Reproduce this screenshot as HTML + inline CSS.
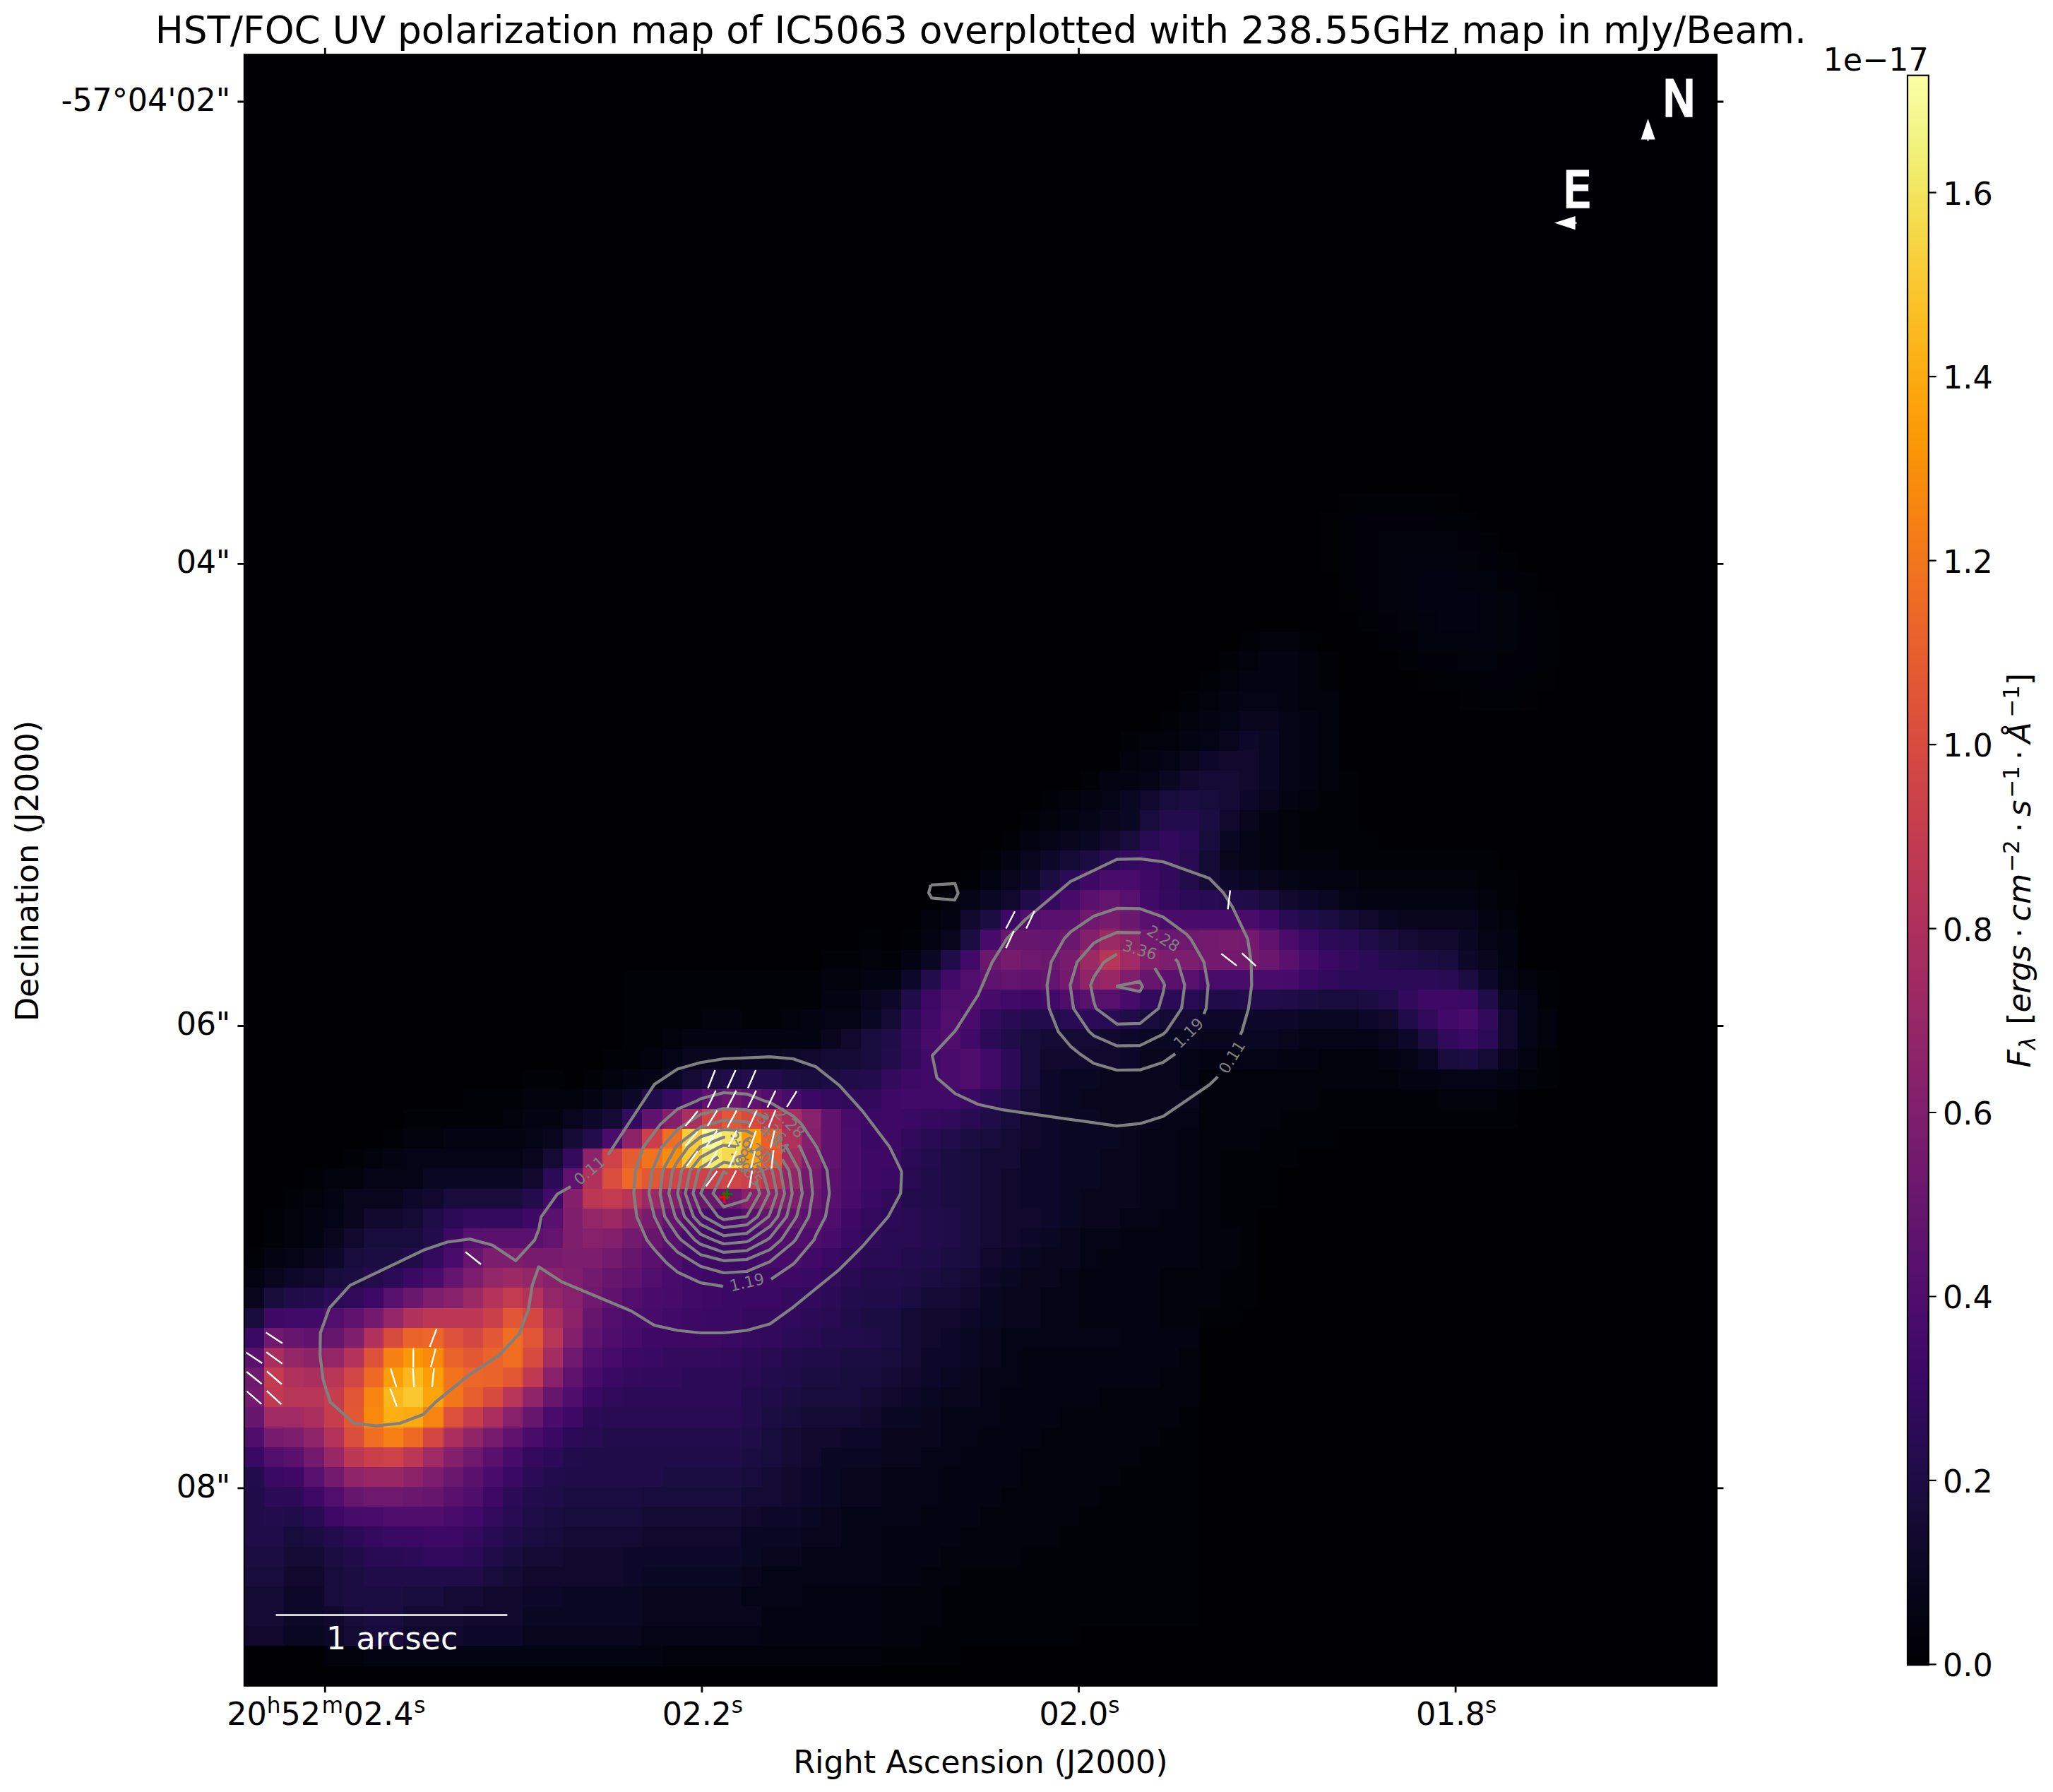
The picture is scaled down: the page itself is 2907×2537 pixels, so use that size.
<!DOCTYPE html>
<html><head><meta charset="utf-8"><title>HST/FOC UV polarization map of IC5063</title>
<style>
html,body{margin:0;padding:0;background:#fff}
svg{display:block}
text{font-family:"DejaVu Sans","Liberation Sans",sans-serif;}
</style></head><body>
<svg width="2907" height="2537" viewBox="0 0 2907 2537">
<rect width="2907" height="2537" fill="#fff"/>
<g shape-rendering="crispEdges">
<rect x="346" y="77" width="2085" height="2310" fill="#000004"/>
<path fill="#010106" d="M1896 697h28v28h-28zM2036 697h29v28h-29zM1867 725h29v28h-29zM1867 753h29v28h-29zM1867 781h29v28h-29zM1896 838h28v28h-28zM2177 838h28v28h-28zM2008 950h28v28h-28zM2177 950h28v28h-28zM2065 978h28v29h-28zM2149 978h28v29h-28z"/>
<path fill="#010108" d="M1924 697h112v28h-112zM1896 725h28v28h-28zM2036 725h57v28h-57zM1896 753h28v28h-28zM2093 753h28v28h-28zM1896 781h28v28h-28zM2121 781h28v28h-28zM1896 809h28v29h-28zM2149 809h28v29h-28zM2149 838h28v28h-28zM1924 866h28v28h-28zM2177 866h28v28h-28zM1755 894h28v28h-28zM1839 894h28v28h-28zM1952 894h28v28h-28zM2177 894h28v28h-28zM1727 922h28v28h-28zM1867 922h29v28h-29zM1980 922h28v28h-28zM2177 922h28v28h-28zM1698 950h29v28h-29zM1867 950h29v28h-29zM2036 950h57v28h-57zM2149 950h28v28h-28zM1670 978h28v29h-28zM2093 978h56v29h-56zM1642 1007h28v28h-28zM1586 1035h28v28h-28zM1529 1091h28v28h-28zM1896 1091h28v28h-28zM1473 1119h28v28h-28zM1867 1119h57v28h-57zM1445 1147h28v29h-28zM1839 1147h85v29h-85zM1417 1176h28v28h-28zM1839 1176h113v28h-113zM1388 1204h29v28h-29zM1896 1204h225v28h-225zM1360 1232h28v28h-28zM2093 1232h56v28h-56zM2121 1260h28v28h-28zM1219 1316h29v29h-29zM1276 1316h28v29h-28zM1163 1345h56v28h-56zM1248 1345h28v28h-28zM881 1373h282v28h-282zM2177 1373h28v28h-28zM881 1401h282v28h-282zM2177 1401h28v28h-28zM881 1429h113v28h-113zM1050 1429h57v28h-57zM881 1457h57v28h-57zM853 1485h56v29h-56zM2177 1485h28v29h-28zM740 1514h57v28h-57zM825 1514h28v28h-28zM2177 1514h28v28h-28zM656 1542h84v28h-84zM1867 1542h169v28h-169zM2121 1542h28v28h-28zM571 1570h141v28h-141zM1811 1570h338v28h-338zM543 1598h28v28h-28zM1783 1598h113v28h-113zM487 1626h28v28h-28zM1727 1626h112v28h-112zM430 1654h29v29h-29zM1727 1654h84v29h-84zM402 1683h28v28h-28zM1727 1683h84v28h-84zM374 1711h28v28h-28zM1727 1711h56v28h-56zM374 1739h28v28h-28zM1755 1739h28v28h-28zM346 1767h28v28h-28zM1755 1767h28v28h-28zM1727 1795h56v28h-56zM1727 1823h56v29h-56zM1698 1852h57v28h-57zM1670 1992h28v29h-28zM1642 2021h56v28h-56zM1614 2049h84v28h-84zM1586 2077h112v28h-112zM1557 2105h141v28h-141zM1529 2133h169v28h-169zM1501 2161h197v29h-197zM1445 2190h253v28h-253zM1360 2218h338v28h-338zM1332 2246h366v28h-366zM1332 2274h366v28h-366zM1304 2302h225v28h-225zM1248 2330h112v29h-112z"/>
<path fill="#02010a" d="M1924 725h112v28h-112zM1924 753h28v28h-28zM2065 753h28v28h-28zM1924 781h28v28h-28zM2093 781h28v28h-28zM1924 809h28v29h-28zM2121 809h28v29h-28zM1924 838h28v28h-28zM1952 866h28v28h-28zM2149 866h28v28h-28zM1980 894h28v28h-28zM2149 894h28v28h-28zM2008 922h57v28h-57zM2121 922h56v28h-56zM2093 950h56v28h-56z"/>
<path fill="#02020c" d="M1952 753h113v28h-113zM1952 781h28v28h-28zM2065 781h28v28h-28zM1952 809h28v29h-28zM2093 809h28v29h-28zM1952 838h28v28h-28zM2121 838h28v28h-28zM1980 866h28v28h-28zM2121 866h28v28h-28zM1783 894h56v28h-56zM2008 894h28v28h-28zM2121 894h28v28h-28zM1755 922h28v28h-28zM1839 922h28v28h-28zM2065 922h56v28h-56zM1727 950h28v28h-28zM1839 950h28v28h-28zM1698 978h29v29h-29zM1839 978h57v29h-57zM1670 1007h28v28h-28zM1867 1007h29v28h-29zM1614 1035h56v28h-56zM1867 1035h29v28h-29zM1586 1063h28v28h-28zM1867 1063h29v28h-29zM1867 1091h29v28h-29zM1501 1119h28v28h-28zM1839 1119h28v28h-28zM1473 1147h28v29h-28zM1811 1147h28v29h-28zM1811 1176h28v28h-28zM1811 1204h85v28h-85zM1924 1232h169v28h-169zM1332 1260h28v28h-28zM2093 1260h28v28h-28zM1304 1288h28v28h-28zM2121 1288h28v28h-28zM1219 1345h29v28h-29zM1163 1373h56v28h-56zM2149 1373h28v28h-28zM994 1429h56v28h-56zM1107 1429h28v28h-28zM2177 1429h28v28h-28zM938 1457h28v28h-28zM2177 1457h28v28h-28zM909 1485h29v29h-29zM1867 1485h85v29h-85zM853 1514h28v28h-28zM1698 1514h282v28h-282zM2149 1514h28v28h-28zM740 1542h85v28h-85zM1698 1542h169v28h-169zM2036 1542h85v28h-85zM712 1570h28v28h-28zM1698 1570h113v28h-113zM571 1598h57v28h-57zM1698 1598h85v28h-85zM515 1626h28v28h-28zM1698 1626h29v28h-29zM459 1654h56v29h-56zM1698 1654h29v29h-29zM430 1683h29v28h-29zM1698 1683h29v28h-29zM402 1711h28v28h-28zM1698 1711h29v28h-29zM402 1739h28v28h-28zM1698 1739h57v28h-57zM1698 1767h57v28h-57zM1642 1795h85v28h-85zM1642 1823h85v29h-85zM1642 1852h56v28h-56zM1670 1908h28v28h-28zM1642 1936h56v28h-56zM1557 1964h141v28h-141zM1501 1992h169v29h-169zM1473 2021h169v28h-169zM1445 2049h169v28h-169zM1445 2077h141v28h-141zM1417 2105h140v28h-140zM1388 2133h141v28h-141zM1360 2161h141v29h-141zM1332 2190h113v28h-113zM1304 2218h56v28h-56zM1248 2246h84v28h-84zM1248 2274h84v28h-84zM1248 2302h56v28h-56zM459 2330h56v29h-56zM938 2330h310v29h-310z"/>
<path fill="#02020e" d="M1980 781h85v28h-85zM1980 809h28v29h-28zM2065 809h28v29h-28zM1980 838h28v28h-28zM2093 838h28v28h-28zM2008 866h28v28h-28zM2093 866h28v28h-28zM2036 894h85v28h-85z"/>
<path fill="#030210" d="M2008 809h57v29h-57zM2008 838h85v28h-85zM2036 866h57v28h-57z"/>
<path fill="#040312" d="M1783 922h56v28h-56zM1755 950h84v28h-84zM1727 978h28v29h-28zM1811 978h28v29h-28zM1698 1007h29v28h-29zM1839 1007h28v28h-28zM1670 1035h28v28h-28zM1839 1035h28v28h-28zM1614 1063h28v28h-28zM1839 1063h28v28h-28zM1557 1091h57v28h-57zM1839 1091h28v28h-28zM1529 1119h28v28h-28zM1811 1119h28v28h-28zM1501 1147h28v29h-28zM1783 1147h28v29h-28zM1445 1176h28v28h-28zM1783 1176h28v28h-28zM1417 1204h28v28h-28zM1783 1204h28v28h-28zM1388 1232h29v28h-29zM1839 1232h85v28h-85zM1924 1260h169v28h-169zM1332 1288h28v28h-28zM2093 1288h28v28h-28zM1304 1316h28v29h-28zM2121 1316h28v29h-28zM1276 1345h28v28h-28zM2121 1345h28v28h-28zM1219 1373h57v28h-57zM1163 1401h56v28h-56zM1135 1429h28v28h-28zM966 1457h197v28h-197zM1698 1485h57v29h-57zM1811 1485h56v29h-56zM1952 1485h28v29h-28zM2149 1485h28v29h-28zM881 1514h28v28h-28zM1980 1514h56v28h-56zM2121 1514h28v28h-28zM825 1542h28v28h-28zM740 1570h57v28h-57zM628 1598h112v28h-112zM1670 1598h28v28h-28zM543 1626h28v28h-28zM1670 1626h28v28h-28zM1670 1654h28v29h-28zM459 1683h28v28h-28zM1670 1683h28v28h-28zM430 1711h29v28h-29zM1642 1711h56v28h-56zM430 1739h29v28h-29zM1586 1739h112v28h-112zM374 1767h28v28h-28zM1557 1767h141v28h-141zM346 1795h28v28h-28zM1529 1795h113v28h-113zM1529 1823h113v29h-113zM1529 1852h113v28h-113zM1586 1880h112v28h-112zM1445 1908h225v28h-225zM1445 1936h197v28h-197zM1417 1964h140v28h-140zM1417 1992h84v29h-84zM1388 2021h85v28h-85zM1360 2049h85v28h-85zM1332 2077h113v28h-113zM1332 2105h85v28h-85zM1304 2133h84v28h-84zM1248 2161h112v29h-112zM1248 2190h84v28h-84zM1248 2218h56v28h-56zM1135 2246h113v28h-113zM1078 2274h170v28h-170zM1078 2302h170v28h-170zM515 2330h423v29h-423z"/>
<path fill="#050417" d="M1755 978h56v29h-56zM1727 1007h28v28h-28zM1811 1007h28v28h-28zM1698 1035h29v28h-29zM1811 1035h28v28h-28zM1642 1063h28v28h-28zM1811 1063h28v28h-28zM1614 1091h28v28h-28zM1811 1091h28v28h-28zM1557 1119h29v28h-29zM1529 1147h28v29h-28zM1473 1176h28v28h-28zM1755 1176h28v28h-28zM1755 1204h28v28h-28zM1811 1232h28v28h-28zM1360 1260h28v28h-28zM1896 1260h28v28h-28zM2093 1316h28v29h-28zM2121 1373h28v28h-28zM2149 1401h28v28h-28zM1163 1429h56v28h-56zM2149 1429h28v28h-28zM1839 1457h113v28h-113zM2149 1457h28v28h-28zM938 1485h28v29h-28zM1670 1485h28v29h-28zM1755 1485h56v29h-56zM1980 1485h28v29h-28zM909 1514h29v28h-29zM1670 1514h28v28h-28zM2036 1514h85v28h-85zM1642 1570h56v28h-56zM740 1598h29v28h-29zM1614 1598h56v28h-56zM571 1626h169v28h-169zM1614 1626h56v28h-56zM515 1654h84v29h-84zM1614 1654h56v29h-56zM1614 1683h56v28h-56zM459 1711h28v28h-28zM1586 1711h56v28h-56zM1529 1739h57v28h-57zM402 1767h28v28h-28zM1529 1767h28v28h-28zM1501 1795h28v28h-28zM1473 1823h56v29h-56zM1473 1852h56v28h-56zM1417 1880h169v28h-169zM1417 1908h28v28h-28zM1388 1936h57v28h-57zM1388 1964h29v28h-29zM1332 1992h85v29h-85zM1332 2021h56v28h-56zM1304 2049h56v28h-56zM1248 2077h84v28h-84zM1248 2105h84v28h-84zM1191 2133h113v28h-113zM1191 2161h57v29h-57zM1135 2190h113v28h-113zM1078 2218h170v28h-170zM1050 2246h85v28h-85zM909 2302h169v28h-169z"/>
<path fill="#08051d" d="M1755 1007h56v28h-56zM1727 1035h28v28h-28zM1670 1063h28v28h-28zM1783 1119h28v28h-28zM1557 1147h29v29h-29zM1755 1147h28v29h-28zM1501 1176h28v28h-28zM1445 1204h28v28h-28zM1727 1204h28v28h-28zM1417 1232h28v28h-28zM1783 1232h28v28h-28zM1980 1288h113v28h-113zM1332 1316h28v29h-28zM2093 1345h28v28h-28zM1219 1401h29v28h-29zM1163 1457h28v28h-28zM1698 1457h57v28h-57zM1811 1457h28v28h-28zM1952 1457h28v28h-28zM966 1485h84v29h-84zM1614 1485h56v29h-56zM2121 1485h28v29h-28zM1557 1514h113v28h-113zM853 1542h28v28h-28zM1529 1542h169v28h-169zM797 1570h28v28h-28zM1557 1570h85v28h-85zM769 1598h28v28h-28zM1586 1598h28v28h-28zM740 1626h29v28h-29zM1557 1626h57v28h-57zM1557 1654h57v29h-57zM487 1683h84v28h-84zM1529 1683h85v28h-85zM487 1711h28v28h-28zM1529 1711h57v28h-57zM459 1739h28v28h-28zM1501 1739h28v28h-28zM430 1767h29v28h-29zM1473 1767h56v28h-56zM374 1795h28v28h-28zM1445 1795h56v28h-56zM346 1823h28v29h-28zM1417 1823h56v29h-56zM1417 1852h56v28h-56zM1388 1880h29v28h-29zM1388 1908h29v28h-29zM1360 1936h28v28h-28zM1332 1964h56v28h-56zM1304 1992h28v29h-28zM1248 2021h84v28h-84zM1248 2049h56v28h-56zM1191 2077h57v28h-57zM1191 2105h57v28h-57zM1163 2133h28v28h-28zM1135 2161h56v29h-56zM1078 2190h57v28h-57zM1050 2218h28v28h-28zM909 2246h141v28h-141zM909 2274h169v28h-169zM740 2302h169v28h-169z"/>
<path fill="#0a0722" d="M1783 1035h28v28h-28zM1783 1063h28v28h-28zM1642 1091h28v28h-28zM1783 1091h28v28h-28zM1586 1119h28v28h-28zM1586 1147h28v29h-28zM1529 1176h28v28h-28zM1727 1176h28v28h-28zM1755 1232h28v28h-28zM1388 1260h29v28h-29zM1867 1260h29v28h-29zM1952 1288h28v28h-28zM2065 1316h28v29h-28zM1304 1345h28v28h-28zM2121 1401h28v28h-28zM1219 1429h29v28h-29zM1839 1429h85v28h-85zM1614 1457h84v28h-84zM1755 1457h56v28h-56zM1050 1485h57v29h-57zM2008 1485h28v29h-28zM938 1514h28v28h-28zM1501 1514h56v28h-56zM1501 1542h28v28h-28zM1501 1570h56v28h-56zM1501 1598h85v28h-85zM1501 1626h56v28h-56zM599 1654h141v29h-141zM1501 1654h56v29h-56zM1501 1683h28v28h-28zM1501 1711h28v28h-28zM1473 1739h28v28h-28zM1445 1767h28v28h-28zM1417 1795h28v28h-28zM1388 1823h29v29h-29zM1388 1852h29v28h-29zM1360 1880h28v28h-28zM1360 1908h28v28h-28zM1332 1936h28v28h-28zM1304 1964h28v28h-28zM1248 1992h56v29h-56zM1163 2049h85v28h-85zM1163 2077h28v28h-28zM1163 2105h28v28h-28zM1135 2133h28v28h-28zM1050 2161h85v29h-85zM1050 2190h28v28h-28zM909 2218h141v28h-141zM797 2246h112v28h-112zM740 2274h169v28h-169zM402 2302h57v28h-57z"/>
<path fill="#0d0829" d="M1755 1035h28v28h-28zM1698 1063h29v28h-29zM1755 1119h28v28h-28zM1473 1204h28v28h-28zM1445 1232h28v28h-28zM1727 1232h28v28h-28zM1839 1260h28v28h-28zM2065 1345h28v28h-28zM1276 1373h28v28h-28zM2093 1373h28v28h-28zM1248 1401h28v28h-28zM1698 1429h141v28h-141zM1924 1429h28v28h-28zM1586 1457h28v28h-28zM1980 1457h28v28h-28zM1107 1485h28v29h-28zM1586 1485h28v29h-28zM1473 1514h28v28h-28zM881 1542h28v28h-28zM1473 1542h28v28h-28zM825 1570h28v28h-28zM1473 1570h28v28h-28zM1473 1598h28v28h-28zM1445 1626h56v28h-56zM1445 1654h56v29h-56zM571 1683h28v28h-28zM1445 1683h56v28h-56zM1473 1711h28v28h-28zM1445 1739h28v28h-28zM459 1767h28v28h-28zM1417 1767h28v28h-28zM402 1795h28v28h-28zM1388 1795h29v28h-29zM1360 1852h28v28h-28zM1332 1880h28v28h-28zM1304 1908h56v28h-56zM1304 1936h28v28h-28zM1276 1964h28v28h-28zM1191 2021h57v28h-57zM1135 2077h28v28h-28zM1135 2105h28v28h-28zM1078 2133h57v28h-57zM881 2190h169v28h-169zM881 2218h28v28h-28zM402 2246h57v28h-57zM740 2246h57v28h-57zM402 2274h57v28h-57zM459 2302h28v28h-28zM656 2302h84v28h-84z"/>
<path fill="#10092d" d="M1727 1063h56v28h-56zM1670 1091h28v28h-28zM1755 1091h28v28h-28zM1614 1119h28v28h-28zM1727 1147h28v29h-28zM1557 1176h29v28h-29zM1417 1260h28v28h-28zM1811 1260h28v28h-28zM1360 1288h28v28h-28zM1924 1288h28v28h-28zM2008 1316h57v29h-57zM1952 1429h28v28h-28zM2121 1429h28v28h-28zM1191 1457h28v28h-28zM1557 1457h29v28h-29zM2121 1457h28v28h-28zM1135 1485h28v29h-28zM1473 1485h113v29h-113zM1445 1570h28v28h-28zM1445 1598h28v28h-28zM740 1654h29v29h-29zM1417 1654h28v29h-28zM599 1683h29v28h-29zM1417 1683h28v28h-28zM515 1711h56v28h-56zM1417 1711h56v28h-56zM487 1739h28v28h-28zM1417 1739h28v28h-28zM1388 1767h29v28h-29zM430 1795h29v28h-29zM1360 1823h28v29h-28zM1304 1852h56v28h-56zM1304 1880h28v28h-28zM1276 1936h28v28h-28zM1248 1964h28v28h-28zM1219 1992h29v29h-29zM1135 2021h56v28h-56zM1135 2049h28v28h-28zM1107 2077h28v28h-28zM1107 2105h28v28h-28zM1050 2133h28v28h-28zM909 2161h141v29h-141zM797 2190h84v28h-84zM402 2218h57v28h-57zM740 2218h141v28h-141zM684 2246h56v28h-56zM459 2274h28v28h-28zM656 2274h84v28h-84zM346 2302h56v28h-56zM571 2302h85v28h-85z"/>
<path fill="#140b34" d="M1698 1091h57v28h-57zM1727 1119h28v28h-28zM1501 1204h28v28h-28zM1698 1204h29v28h-29zM1698 1232h29v28h-29zM1896 1288h28v28h-28zM1980 1316h28v29h-28zM1248 1429h28v28h-28zM1642 1429h56v28h-56zM1473 1457h84v28h-84zM1163 1485h56v29h-56zM2093 1485h28v29h-28zM966 1514h28v28h-28zM1445 1542h28v28h-28zM853 1570h28v28h-28zM797 1598h28v28h-28zM1417 1598h28v28h-28zM769 1626h28v28h-28zM1388 1626h57v28h-57zM1388 1654h29v29h-29zM1388 1683h29v28h-29zM571 1711h28v28h-28zM1388 1711h29v28h-29zM1388 1739h29v28h-29zM1360 1795h28v28h-28zM1304 1823h56v29h-56zM1276 1852h28v28h-28zM1276 1880h28v28h-28zM1276 1908h28v28h-28zM1248 1936h28v28h-28zM1219 1964h29v28h-29zM1135 1992h84v29h-84zM1107 2021h28v28h-28zM1107 2049h28v28h-28zM1078 2077h29v28h-29zM1050 2105h57v28h-57zM909 2133h141v28h-141zM797 2161h112v29h-112zM402 2190h57v28h-57zM740 2190h57v28h-57zM712 2218h28v28h-28zM346 2246h56v28h-56zM628 2246h56v28h-56zM346 2274h56v28h-56zM571 2274h85v28h-85zM487 2302h28v28h-28z"/>
<path fill="#180c3c" d="M1642 1119h28v28h-28zM1698 1119h29v28h-29zM1614 1147h28v29h-28zM1586 1176h28v28h-28zM1698 1176h29v28h-29zM1783 1260h28v28h-28zM1952 1316h28v29h-28zM2036 1345h29v28h-29zM1867 1401h57v28h-57zM1614 1429h28v28h-28zM1219 1457h29v28h-29zM1445 1457h28v28h-28zM1219 1485h29v29h-29zM1445 1485h28v29h-28zM2036 1485h29v29h-29zM1135 1514h28v28h-28zM1445 1514h28v28h-28zM1417 1570h28v28h-28zM1388 1598h29v28h-29zM1360 1626h28v28h-28zM1360 1654h28v29h-28zM628 1683h112v28h-112zM1360 1683h28v28h-28zM1360 1711h28v28h-28zM515 1739h84v28h-84zM1360 1739h28v28h-28zM487 1767h28v28h-28zM1360 1767h28v28h-28zM459 1795h28v28h-28zM1332 1795h28v28h-28zM374 1823h28v29h-28zM346 1852h28v28h-28zM1248 1908h28v28h-28zM1191 1936h57v28h-57zM1135 1964h84v28h-84zM1107 1992h28v29h-28zM1078 2021h29v28h-29zM1078 2049h29v28h-29zM1050 2077h28v28h-28zM909 2105h141v28h-141zM797 2133h112v28h-112zM402 2161h28v29h-28zM769 2161h28v29h-28zM712 2190h28v28h-28zM346 2218h56v28h-56zM459 2218h28v28h-28zM684 2218h28v28h-28zM459 2246h28v28h-28zM571 2246h57v28h-57zM487 2274h28v28h-28zM515 2302h56v28h-56z"/>
<path fill="#1b0c41" d="M1670 1119h28v28h-28zM1698 1147h29v29h-29zM1529 1204h28v28h-28zM1473 1232h28v28h-28zM1388 1288h29v28h-29zM1867 1288h29v28h-29zM1360 1316h28v29h-28zM2008 1345h28v28h-28zM2065 1373h28v28h-28zM1839 1401h28v28h-28zM1924 1401h28v28h-28zM2008 1457h28v28h-28zM2065 1485h28v29h-28zM994 1514h28v28h-28zM1107 1514h28v28h-28zM1163 1514h28v28h-28zM1360 1598h28v28h-28zM1332 1626h28v28h-28zM1332 1654h28v29h-28zM1332 1683h28v28h-28zM515 1767h56v28h-56zM1332 1767h28v28h-28zM487 1795h28v28h-28zM1304 1795h28v28h-28zM1276 1823h28v29h-28zM1219 1852h57v28h-57zM1248 1880h28v28h-28zM1191 1908h57v28h-57zM1135 1936h56v28h-56zM1107 1964h28v28h-28zM1078 1992h29v29h-29zM1050 2049h28v28h-28zM938 2077h112v28h-112zM797 2105h112v28h-112zM769 2133h28v28h-28zM430 2161h29v29h-29zM740 2161h29v29h-29zM346 2190h56v28h-56zM459 2190h28v28h-28zM487 2218h28v28h-28zM487 2246h84v28h-84zM515 2274h56v28h-56z"/>
<path fill="#1f0c48" d="M1445 1260h28v28h-28zM1755 1260h28v28h-28zM1839 1288h28v28h-28zM1924 1316h28v29h-28zM1332 1345h28v28h-28zM1980 1345h28v28h-28zM1276 1401h28v28h-28zM1698 1401h57v28h-57zM1811 1401h28v28h-28zM2093 1401h28v28h-28zM1586 1429h28v28h-28zM1980 1429h28v28h-28zM1248 1457h28v28h-28zM1417 1457h28v28h-28zM1022 1514h28v28h-28zM1191 1514h28v28h-28zM909 1542h29v28h-29zM1417 1542h28v28h-28zM1388 1570h29v28h-29zM1304 1654h28v29h-28zM1304 1683h28v28h-28zM599 1711h29v28h-29zM1332 1711h28v28h-28zM1332 1739h28v28h-28zM571 1767h28v28h-28zM1304 1767h28v28h-28zM1276 1795h28v28h-28zM402 1823h28v29h-28zM1219 1823h57v29h-57zM1191 1852h28v28h-28zM1219 1880h29v28h-29zM1135 1908h56v28h-56zM1107 1936h28v28h-28zM1078 1964h29v28h-29zM1050 2021h28v28h-28zM825 2049h225v28h-225zM797 2077h141v28h-141zM346 2105h28v28h-28zM769 2105h28v28h-28zM346 2133h28v28h-28zM402 2133h28v28h-28zM740 2133h29v28h-29zM346 2161h56v29h-56zM712 2161h28v29h-28zM487 2190h28v28h-28zM684 2190h28v28h-28zM515 2218h169v28h-169z"/>
<path fill="#230c4c" d="M1642 1147h56v29h-56zM1670 1232h28v28h-28zM1727 1260h28v28h-28zM1952 1345h28v28h-28zM1304 1373h28v28h-28zM1755 1401h56v28h-56zM1952 1401h28v28h-28zM1445 1429h56v28h-56zM1248 1485h28v29h-28zM1050 1514h57v28h-57zM1219 1514h29v28h-29zM825 1598h28v28h-28zM1332 1598h28v28h-28zM1304 1626h28v28h-28zM740 1683h29v28h-29zM1276 1683h28v28h-28zM1304 1711h28v28h-28zM599 1739h29v28h-29zM1304 1739h28v28h-28zM1276 1767h28v28h-28zM515 1795h28v28h-28zM1219 1795h57v28h-57zM430 1823h29v29h-29zM1191 1823h28v29h-28zM1163 1880h56v28h-56zM1107 1908h28v28h-28zM1078 1936h29v28h-29zM1050 1964h28v28h-28zM1050 1992h28v29h-28zM853 2021h197v28h-197zM797 2049h28v28h-28zM346 2077h28v28h-28zM769 2077h28v28h-28zM740 2105h29v28h-29zM374 2133h28v28h-28zM459 2161h28v29h-28z"/>
<path fill="#280b53" d="M1614 1176h28v28h-28zM1557 1204h29v28h-29zM1670 1204h28v28h-28zM1698 1260h29v28h-29zM1811 1288h28v28h-28zM1896 1316h28v29h-28zM2036 1373h29v28h-29zM1670 1401h28v28h-28zM1417 1429h28v28h-28zM1501 1429h28v28h-28zM1557 1429h29v28h-29zM1360 1570h28v28h-28zM1304 1598h28v28h-28zM1276 1654h28v29h-28zM1276 1711h28v28h-28zM1248 1739h56v28h-56zM1219 1767h57v28h-57zM1191 1795h28v28h-28zM1163 1852h28v28h-28zM1135 1880h28v28h-28zM1078 1908h29v28h-29zM1050 1936h28v28h-28zM853 1992h197v29h-197zM825 2021h28v28h-28zM430 2133h29v28h-29zM712 2133h28v28h-28zM684 2161h28v29h-28zM515 2190h56v28h-56z"/>
<path fill="#2b0b57" d="M1670 1176h28v28h-28zM1501 1232h28v28h-28zM1670 1260h28v28h-28zM1867 1316h29v29h-29zM1924 1345h28v28h-28zM1896 1373h140v28h-140zM1642 1401h28v28h-28zM1276 1429h28v28h-28zM1529 1429h28v28h-28zM1388 1457h29v28h-29zM2093 1457h28v28h-28zM1417 1485h28v29h-28zM1417 1514h28v28h-28zM1388 1542h29v28h-29zM1276 1626h28v28h-28zM769 1654h28v29h-28zM628 1711h28v28h-28zM1248 1711h28v28h-28zM543 1795h28v28h-28zM459 1823h28v29h-28zM1163 1823h28v29h-28zM1135 1852h28v28h-28zM1107 1880h28v28h-28zM1050 1908h28v28h-28zM966 1936h84v28h-84zM881 1964h169v28h-169zM825 1992h28v29h-28zM797 2021h28v28h-28zM769 2049h28v28h-28zM740 2077h29v28h-29zM374 2105h56v28h-56zM712 2105h28v28h-28zM487 2161h28v29h-28zM571 2190h28v28h-28zM656 2190h28v28h-28z"/>
<path fill="#310a5c" d="M1642 1176h28v28h-28zM1642 1204h28v28h-28zM1642 1232h28v28h-28zM1896 1345h28v28h-28zM1867 1373h29v28h-29zM1980 1401h28v28h-28zM2008 1429h28v28h-28zM2093 1429h28v28h-28zM2036 1457h29v28h-29zM1276 1485h28v29h-28zM1191 1542h57v28h-57zM1332 1570h28v28h-28zM1276 1598h28v28h-28zM1248 1683h28v28h-28zM1219 1739h29v28h-29zM1191 1767h28v28h-28zM1163 1795h28v28h-28zM487 1823h28v29h-28zM1135 1823h28v29h-28zM1107 1852h28v28h-28zM1078 1880h29v28h-29zM1022 1908h28v28h-28zM909 1936h57v28h-57zM853 1964h28v28h-28zM599 2190h57v28h-57z"/>
<path fill="#340a5f" d="M1586 1204h28v28h-28zM1473 1260h28v28h-28zM1642 1260h28v28h-28zM1614 1401h28v28h-28zM1388 1429h29v28h-29zM1276 1457h28v28h-28zM1248 1514h28v28h-28zM938 1542h28v28h-28zM1163 1542h28v28h-28zM881 1570h28v28h-28zM1304 1570h28v28h-28zM797 1626h28v28h-28zM656 1711h84v28h-84zM1219 1711h29v28h-29zM599 1767h29v28h-29zM1107 1823h28v29h-28zM1050 1852h57v28h-57zM1050 1880h28v28h-28zM938 1908h84v28h-84zM881 1936h28v28h-28zM740 2049h29v28h-29zM684 2133h28v28h-28zM515 2161h28v29h-28zM656 2161h28v29h-28z"/>
<path fill="#390963" d="M1614 1204h28v28h-28zM1839 1316h28v29h-28zM1867 1345h29v28h-29zM1839 1373h28v28h-28zM2065 1401h28v28h-28zM2065 1457h28v28h-28zM1135 1542h28v28h-28zM1360 1542h28v28h-28zM1219 1570h29v28h-29zM1276 1570h28v28h-28zM1219 1598h29v28h-29zM1248 1654h28v29h-28zM1219 1683h29v28h-29zM1191 1739h28v28h-28zM1163 1767h28v28h-28zM571 1795h28v28h-28zM1135 1795h28v28h-28zM1022 1823h85v29h-85zM994 1852h56v28h-56zM346 1880h28v28h-28zM1022 1880h28v28h-28zM909 1908h29v28h-29zM853 1936h28v28h-28zM825 1964h28v28h-28zM769 2021h28v28h-28zM346 2049h28v28h-28zM374 2077h28v28h-28zM712 2077h28v28h-28zM543 2161h56v29h-56z"/>
<path fill="#3d0965" d="M1529 1232h28v28h-28zM1614 1232h28v28h-28zM1417 1288h28v28h-28zM1783 1288h28v28h-28zM1304 1401h28v28h-28zM1445 1401h28v28h-28zM2008 1401h57v28h-57zM1276 1514h28v28h-28zM1248 1542h28v28h-28zM1248 1570h28v28h-28zM1248 1598h28v28h-28zM1219 1626h57v28h-57zM1219 1654h29v29h-29zM740 1711h29v28h-29zM1191 1711h28v28h-28zM628 1739h28v28h-28zM994 1739h56v28h-56zM994 1767h56v28h-56zM994 1795h141v28h-141zM515 1823h28v29h-28zM994 1823h28v29h-28zM374 1852h28v28h-28zM966 1852h28v28h-28zM909 1880h113v28h-113zM881 1908h28v28h-28zM797 1992h28v29h-28zM402 2077h28v28h-28zM430 2105h29v28h-29zM684 2105h28v28h-28zM459 2133h28v28h-28zM599 2161h57v29h-57z"/>
<path fill="#420a68" d="M1614 1260h28v28h-28zM1360 1345h28v28h-28zM1332 1373h28v28h-28zM1417 1401h28v28h-28zM1473 1401h28v28h-28zM1304 1429h28v28h-28zM2036 1429h29v28h-29zM1360 1457h28v28h-28zM1304 1485h28v29h-28zM1388 1485h29v29h-29zM1304 1514h28v28h-28zM1388 1514h29v28h-29zM1276 1542h84v28h-84zM769 1683h28v28h-28zM966 1767h28v28h-28zM1050 1767h28v28h-28zM1135 1767h28v28h-28zM966 1795h28v28h-28zM966 1823h28v29h-28zM402 1852h57v28h-57zM938 1852h28v28h-28zM656 2133h28v28h-28z"/>
<path fill="#470b6a" d="M1501 1260h28v28h-28zM1388 1316h29v29h-29zM1839 1345h28v28h-28zM1811 1373h28v28h-28zM1388 1401h29v28h-29zM1586 1401h28v28h-28zM2065 1429h28v28h-28zM1304 1457h28v28h-28zM1107 1542h28v28h-28zM1191 1570h28v28h-28zM1191 1683h28v28h-28zM994 1711h28v28h-28zM966 1739h28v28h-28zM1050 1739h28v28h-28zM1163 1739h28v28h-28zM1078 1767h57v28h-57zM938 1823h28v29h-28zM909 1852h29v28h-29zM881 1880h28v28h-28zM853 1908h28v28h-28zM825 1936h28v28h-28zM712 2049h28v28h-28zM487 2133h28v28h-28z"/>
<path fill="#4a0c6b" d="M1557 1232h57v28h-57zM1642 1288h141v28h-141zM1811 1316h28v29h-28zM1698 1373h113v28h-113zM1360 1429h28v28h-28zM1332 1485h28v29h-28zM1332 1514h28v28h-28zM966 1542h28v28h-28zM853 1598h28v28h-28zM1191 1598h28v28h-28zM1191 1626h28v28h-28zM1191 1654h28v29h-28zM1022 1711h28v28h-28zM628 1767h28v28h-28zM599 1795h29v28h-29zM938 1795h28v28h-28zM909 1823h29v29h-29zM881 1852h28v28h-28zM769 1992h28v29h-28zM740 2021h29v28h-29zM684 2077h28v28h-28zM515 2133h28v28h-28zM628 2133h28v28h-28z"/>
<path fill="#4f0d6c" d="M1332 1401h56v28h-56zM1501 1401h28v28h-28zM1332 1457h28v28h-28zM1360 1485h28v29h-28zM1360 1514h28v28h-28zM966 1711h28v28h-28zM1163 1711h28v28h-28zM1078 1739h29v28h-29zM1135 1739h28v28h-28zM938 1767h28v28h-28zM853 1880h28v28h-28zM797 1964h28v28h-28zM346 2021h28v28h-28zM656 2105h28v28h-28zM543 2133h85v28h-85z"/>
<path fill="#520e6d" d="M1445 1288h28v28h-28zM1360 1373h28v28h-28zM1332 1429h28v28h-28zM1078 1542h29v28h-29zM1107 1739h28v28h-28zM909 1795h29v28h-29zM881 1823h28v29h-28zM459 1852h28v28h-28zM853 1852h28v28h-28zM825 1908h28v28h-28zM374 2049h28v28h-28zM459 2105h28v28h-28z"/>
<path fill="#57106e" d="M1586 1260h28v28h-28zM1473 1288h28v28h-28zM1614 1288h28v28h-28zM1670 1373h28v28h-28zM1557 1401h29v28h-29zM1163 1683h28v28h-28zM1050 1711h28v28h-28zM656 1739h28v28h-28zM938 1739h28v28h-28zM543 1823h28v29h-28zM430 2077h29v28h-29z"/>
<path fill="#5a116e" d="M1529 1260h28v28h-28zM1501 1288h28v28h-28zM1811 1345h28v28h-28zM1642 1373h28v28h-28zM1529 1401h28v28h-28zM1163 1654h28v29h-28zM769 1711h28v28h-28zM1135 1711h28v28h-28zM684 1739h85v28h-85zM909 1767h29v28h-29zM346 1908h28v28h-28zM402 2049h28v28h-28zM684 2049h28v28h-28zM656 2077h28v28h-28zM628 2105h28v28h-28z"/>
<path fill="#5f136e" d="M1783 1316h28v29h-28zM1388 1373h29v28h-29zM1445 1373h28v28h-28zM994 1542h28v28h-28zM1050 1542h28v28h-28zM909 1570h29v28h-29zM1163 1570h28v28h-28zM1163 1598h28v28h-28zM1163 1626h28v28h-28zM797 1654h28v29h-28zM881 1795h28v28h-28zM853 1823h28v29h-28zM487 1852h28v28h-28zM430 1880h29v28h-29zM825 1880h28v28h-28zM797 1936h28v28h-28zM712 2021h28v28h-28z"/>
<path fill="#62146e" d="M1557 1260h29v28h-29zM1473 1316h28v29h-28zM1417 1373h28v28h-28zM1473 1373h28v28h-28zM938 1711h28v28h-28zM1078 1711h57v28h-57zM769 1739h28v28h-28zM628 1795h28v28h-28z"/>
<path fill="#67166e" d="M1417 1316h56v29h-56zM1614 1373h28v28h-28zM909 1739h29v28h-29zM656 1767h28v28h-28zM881 1767h28v28h-28zM853 1795h28v28h-28zM825 1852h28v28h-28zM402 1880h28v28h-28zM459 1880h28v28h-28zM769 1964h28v28h-28zM346 1992h28v29h-28zM740 1992h29v29h-29zM487 2105h28v28h-28zM599 2105h29v28h-29z"/>
<path fill="#6a176e" d="M1586 1288h28v28h-28zM1501 1316h28v29h-28zM1642 1316h28v29h-28zM1388 1345h29v28h-29zM1473 1345h28v28h-28zM1783 1345h28v28h-28zM1022 1542h28v28h-28zM966 1683h56v28h-56zM1135 1683h28v28h-28zM571 1823h28v29h-28zM628 2077h28v28h-28zM571 2105h28v28h-28z"/>
<path fill="#6f196e" d="M1529 1288h28v28h-28zM1670 1316h28v29h-28zM1445 1345h28v28h-28zM1022 1683h28v28h-28zM825 1823h28v29h-28zM374 1880h28v28h-28zM797 1908h28v28h-28zM346 1936h28v28h-28zM656 2049h28v28h-28zM515 2105h56v28h-56z"/>
<path fill="#741a6e" d="M1614 1316h28v29h-28zM1698 1316h29v29h-29zM1755 1316h28v29h-28zM1698 1345h85v28h-85zM1501 1373h28v28h-28zM1135 1654h28v29h-28zM881 1739h28v28h-28zM853 1767h28v28h-28zM825 1795h28v28h-28zM515 1852h28v28h-28zM346 1964h28v28h-28zM430 2049h29v28h-29zM459 2077h28v28h-28z"/>
<path fill="#771c6d" d="M1557 1288h29v28h-29zM1727 1316h28v29h-28zM1417 1345h28v28h-28zM1501 1345h28v28h-28zM909 1711h29v28h-29zM740 1767h57v28h-57zM374 2021h28v28h-28zM684 2021h28v28h-28z"/>
<path fill="#7c1d6d" d="M1642 1345h56v28h-56zM1135 1626h28v28h-28zM1107 1683h28v28h-28zM684 1767h56v28h-56zM797 1767h56v28h-56zM656 1795h28v28h-28zM402 2021h28v28h-28zM599 2077h29v28h-29z"/>
<path fill="#7f1e6c" d="M1586 1373h28v28h-28zM797 1711h28v28h-28zM797 1739h28v28h-28zM797 1795h28v28h-28zM599 1823h29v29h-29zM487 1880h28v28h-28z"/>
<path fill="#84206b" d="M1529 1316h28v29h-28zM1614 1345h28v28h-28zM938 1570h28v28h-28zM1135 1598h28v28h-28zM797 1683h28v28h-28zM938 1683h28v28h-28zM853 1739h28v28h-28zM797 1880h28v28h-28zM628 2049h28v28h-28z"/>
<path fill="#87216b" d="M1135 1570h28v28h-28zM1050 1683h28v28h-28zM825 1739h28v28h-28zM769 1795h28v28h-28zM628 1823h28v29h-28zM797 1823h28v29h-28zM769 1936h28v28h-28zM712 1992h28v29h-28z"/>
<path fill="#8c2369" d="M1586 1316h28v29h-28zM881 1598h28v28h-28zM825 1626h28v28h-28zM1078 1683h29v28h-29zM881 1711h28v28h-28zM797 1852h28v28h-28zM430 1908h29v28h-29zM571 2077h28v28h-28z"/>
<path fill="#8f2469" d="M1529 1373h28v28h-28zM740 1964h29v28h-29zM430 2021h29v28h-29zM656 2021h28v28h-28zM487 2077h28v28h-28z"/>
<path fill="#932667" d="M1107 1654h28v29h-28zM825 1711h28v28h-28zM684 1795h28v28h-28zM740 1795h29v28h-29zM769 1823h28v29h-28zM543 1852h28v28h-28zM402 1908h28v28h-28zM459 1908h28v28h-28z"/>
<path fill="#982766" d="M1557 1373h29v28h-29zM459 2049h28v28h-28zM515 2077h56v28h-56z"/>
<path fill="#9b2964" d="M1557 1316h29v29h-29zM1529 1345h28v28h-28zM909 1683h29v28h-29zM853 1711h28v28h-28zM712 1795h28v28h-28zM656 1823h28v29h-28z"/>
<path fill="#a02a63" d="M1586 1345h28v28h-28zM374 1992h56v29h-56zM599 2049h29v28h-29z"/>
<path fill="#a32c61" d="M1107 1626h28v28h-28zM769 1908h28v28h-28z"/>
<path fill="#a82e5f" d="M1107 1570h28v28h-28zM374 1908h28v28h-28z"/>
<path fill="#ab2f5e" d="M966 1570h28v28h-28zM769 1852h28v28h-28zM430 1936h29v28h-29zM430 1992h29v29h-29zM684 1992h28v29h-28zM628 2021h28v28h-28z"/>
<path fill="#b0315b" d="M1107 1598h28v28h-28zM825 1654h28v29h-28zM571 1852h28v28h-28zM515 1880h28v28h-28zM402 1936h28v28h-28z"/>
<path fill="#b3325a" d="M684 1823h28v29h-28zM740 1823h29v29h-29zM487 1908h28v28h-28zM459 2021h28v28h-28z"/>
<path fill="#b73557" d="M1557 1345h29v28h-29zM881 1683h28v28h-28zM769 1880h28v28h-28zM459 1936h28v28h-28zM402 1964h57v28h-57zM712 1964h28v28h-28z"/>
<path fill="#bc3754" d="M1078 1654h29v29h-29zM825 1683h28v28h-28zM599 1852h85v28h-85zM487 2049h28v28h-28zM571 2049h28v28h-28z"/>
<path fill="#bf3952" d="M740 1936h29v28h-29zM374 1964h28v28h-28z"/>
<path fill="#c33b4f" d="M1078 1570h29v28h-29zM853 1683h28v28h-28zM712 1823h28v29h-28zM374 1936h28v28h-28z"/>
<path fill="#c63d4d" d="M459 1964h28v28h-28zM459 1992h28v29h-28zM656 1992h28v29h-28z"/>
<path fill="#ca404a" d="M909 1598h29v28h-29zM684 1852h28v28h-28zM515 2049h28v28h-28z"/>
<path fill="#cc4248" d="M853 1626h28v28h-28zM966 1654h56v29h-56zM1050 1654h28v29h-28zM543 2049h28v28h-28z"/>
<path fill="#d04545" d="M994 1570h28v28h-28zM938 1654h28v29h-28zM1022 1654h28v29h-28zM487 1936h28v28h-28z"/>
<path fill="#d34743" d="M740 1852h29v28h-29zM656 1880h28v28h-28zM599 2021h29v28h-29z"/>
<path fill="#d74b3f" d="M1050 1570h28v28h-28zM543 1880h28v28h-28zM740 1908h29v28h-29zM684 1964h28v28h-28z"/>
<path fill="#d94d3d" d="M853 1654h28v29h-28zM487 2021h28v28h-28z"/>
<path fill="#dd513a" d="M628 1880h28v28h-28zM515 1908h28v28h-28zM628 1992h28v29h-28z"/>
<path fill="#e05536" d="M712 1852h28v28h-28zM740 1880h29v28h-29zM487 1964h28v28h-28z"/>
<path fill="#e25734" d="M1022 1570h28v28h-28zM1078 1626h29v28h-29zM909 1654h29v29h-29zM684 1880h28v28h-28zM656 1908h28v28h-28zM712 1936h28v28h-28zM487 1992h28v29h-28z"/>
<path fill="#e55c30" d="M881 1626h28v28h-28z"/>
<path fill="#e75e2e" d="M1078 1598h29v28h-29zM656 1964h28v28h-28z"/>
<path fill="#ea632a" d="M571 1880h28v28h-28zM628 1908h28v28h-28zM684 1908h28v28h-28zM684 1936h28v28h-28z"/>
<path fill="#eb6628" d="M599 1880h29v28h-29zM656 1936h28v28h-28z"/>
<path fill="#ee6a24" d="M881 1654h28v29h-28zM515 1936h28v28h-28zM571 2021h28v28h-28z"/>
<path fill="#ef6e21" d="M938 1598h28v28h-28zM712 1880h28v28h-28zM712 1908h28v28h-28zM515 2021h28v28h-28z"/>
<path fill="#f1731d" d="M909 1626h29v28h-29zM628 1936h28v28h-28z"/>
<path fill="#f3761b" d="M628 1964h28v28h-28z"/>
<path fill="#f68013" d="M543 1908h28v28h-28zM543 2021h28v28h-28z"/>
<path fill="#f78410" d="M515 1964h28v28h-28zM599 1992h29v29h-29z"/>
<path fill="#f8890c" d="M599 1908h29v28h-29zM515 1992h28v29h-28z"/>
<path fill="#f98c0a" d="M938 1626h28v28h-28z"/>
<path fill="#fb9606" d="M571 1908h28v28h-28z"/>
<path fill="#fb9b06" d="M1050 1598h28v28h-28zM1050 1626h28v28h-28z"/>
<path fill="#fc9f07" d="M543 1936h28v28h-28zM599 1936h29v28h-29z"/>
<path fill="#fca50a" d="M599 1964h29v28h-29z"/>
<path fill="#fcaa0f" d="M571 1992h28v29h-28z"/>
<path fill="#fcae12" d="M543 1992h28v29h-28z"/>
<path fill="#fbb81d" d="M571 1936h28v28h-28zM543 1964h28v28h-28z"/>
<path fill="#f9c72f" d="M966 1626h28v28h-28zM571 1964h28v28h-28z"/>
<path fill="#f9cb35" d="M966 1598h28v28h-28z"/>
<path fill="#f5db4c" d="M1022 1626h28v28h-28z"/>
<path fill="#f3e55d" d="M1022 1598h28v28h-28z"/>
<path fill="#f2ea69" d="M994 1626h28v28h-28z"/>
<path fill="#f8fb9a" d="M994 1598h28v28h-28z"/>
</g>
<clipPath id="axclip"><rect x="345.9" y="77.2" width="2085.0" height="2309.5"/></clipPath>
<g clip-path="url(#axclip)">
<path d="M1664.1 1491.8L1662.6 1493.1L1647.0 1503.9L1614.3 1514.7L1581.5 1515.0L1548.8 1505.4L1530.5 1493.1L1516.1 1481.5L1498.4 1460.3L1485.5 1427.6L1482.6 1394.8L1488.5 1362.1L1506.7 1329.3L1516.0 1319.3L1548.8 1297.0L1581.6 1285.9L1614.3 1286.4L1647.0 1298.2L1679.8 1322.4L1686.1 1329.3L1704.8 1362.1L1710.6 1394.8L1707.9 1427.6L1704.6 1435.8M1023.8 1821.4L1020.9 1820.6L992.0 1816.2L959.3 1801.0L943.8 1787.8L926.5 1768.9L915.8 1755.1L901.6 1722.3L897.5 1689.6L899.9 1656.8L910.8 1624.1L935.5 1591.3L959.3 1570.3L986.5 1558.6L992.0 1555.5L1024.8 1547.0L1057.5 1548.8L1082.6 1558.6L1090.3 1560.6L1123.0 1580.0L1134.9 1591.3L1156.6 1624.1L1171.2 1656.8L1174.4 1689.6L1169.0 1722.3L1155.8 1747.8L1152.8 1755.1L1125.2 1787.8L1123.0 1789.8L1091.9 1811.1M1664.2 1357.6L1668.0 1362.1L1677.5 1394.8L1673.1 1427.6L1651.2 1460.3L1647.0 1464.1L1614.3 1480.1L1581.5 1480.7L1548.8 1466.3L1542.0 1460.3L1520.0 1427.6L1515.4 1394.8L1525.1 1362.1L1548.8 1335.2L1559.8 1329.3L1581.5 1320.1L1614.3 1320.7L1615.2 1321.1M1130.5 1621.1L1133.0 1624.1L1147.5 1656.8L1150.6 1689.6L1145.3 1722.3L1126.5 1755.1L1123.0 1759.0L1090.3 1786.1L1057.5 1800.0L1024.8 1802.0L992.0 1792.7L959.3 1772.6L942.7 1755.1L926.6 1722.4L918.9 1689.6L923.5 1656.8L926.5 1650.4L937.1 1624.1L959.3 1599.1L992.0 1577.4L1024.8 1569.4L1057.5 1571.2L1085.8 1582.3M1635.1 1370.5L1647.0 1389.8L1649.0 1394.8L1647.0 1404.9L1640.5 1427.6L1614.3 1448.8L1581.6 1449.8L1551.9 1427.6L1548.8 1417.9L1544.2 1394.8L1548.8 1383.2L1563.2 1362.1L1581.5 1350.8M1110.5 1621.4L1113.4 1624.1L1131.3 1656.8L1136.0 1689.6L1128.1 1722.3L1106.3 1755.1L1090.3 1769.1L1057.5 1783.0L1024.8 1784.8L992.0 1776.3L964.2 1755.1L959.3 1749.5L941.3 1722.3L934.6 1689.6L938.5 1656.8L956.8 1624.1L959.3 1621.2L992.0 1595.6L1024.8 1585.8L1057.5 1588.3L1063.4 1591.0M1107.6 1641.7L1117.2 1656.8L1121.8 1689.6L1114.0 1722.3L1090.3 1752.3L1086.2 1755.1L1057.5 1770.5L1024.8 1772.9L992.0 1761.6L983.5 1755.1L959.3 1727.3L956.0 1722.3L947.1 1689.6L952.3 1656.8L959.3 1644.8L974.1 1624.1L992.0 1609.5L1024.8 1598.8L1057.5 1601.1L1067.0 1606.1M1580.2 1396.4L1613.9 1389.6L1617.7 1397.0L1613.9 1403.7L1580.2 1396.4M1084.4 1630.3L1090.3 1635.3L1105.2 1656.8L1110.9 1689.6L1101.3 1722.3L1090.3 1736.2L1063.0 1755.1L1057.5 1758.0L1024.8 1761.0L1009.4 1755.1L992.0 1747.3L969.2 1722.3L959.5 1689.6L965.2 1656.8L991.2 1624.1L992.0 1623.4L1024.8 1610.0L1026.8 1610.2M1090.3 1652.6L1093.3 1656.8L1100.0 1689.6L1090.3 1718.0L1088.2 1722.3L1057.5 1746.0L1024.8 1749.4L992.0 1733.4L981.9 1722.3L970.4 1689.6L977.2 1656.8L992.0 1638.3L1018.0 1624.1L1024.8 1621.3L1042.1 1623.1M1071.4 1649.8L1079.3 1656.8L1088.8 1689.6L1072.7 1722.3L1057.5 1734.0L1024.8 1738.0L996.4 1722.4L992.0 1716.5L981.4 1689.6L989.2 1656.8L992.0 1653.3L1017.2 1637.9M1069.9 1671.8L1075.8 1689.6L1057.5 1722.0L1056.5 1722.3L1024.8 1726.7L1016.8 1722.3L992.3 1689.6L1006.7 1656.8L1024.8 1645.5L1040.2 1647.8M1062.0 1687.8L1062.7 1689.6L1057.5 1698.7L1024.8 1708.8L1009.7 1689.6L1024.8 1659.0L1030.1 1661.6M861.0 1634.8L926.5 1535.3L959.3 1513.5L992.0 1504.2L1024.8 1499.0L1090.3 1496.1L1123.0 1499.0L1155.8 1510.6L1188.5 1536.7L1221.3 1573.0L1259.9 1624.1L1275.8 1656.8L1276.7 1660.0L1275.2 1689.6L1257.8 1722.3L1221.3 1764.5L1188.5 1797.3L1123.0 1850.7L1090.3 1874.2L1057.5 1883.5L1024.8 1887.0L992.0 1887.0L959.3 1883.5L926.5 1876.3L893.8 1856.0L795.5 1814.7L762.8 1793.6L753.6 1819.8L748.3 1853.4L735.2 1888.5L705.9 1919.2L663.6 1947.0L616.8 1985.0L599.3 2002.5L566.2 2015.0L533.5 2018.6L501.4 2015.0L467.7 1985.0L457.5 1952.8L453.1 1917.7L453.7 1887.0L466.3 1852.0L495.5 1819.8L599.3 1770.1L632.9 1758.5L665.0 1754.1L697.2 1762.8L730.2 1784.8L757.1 1755.5L763.0 1740.5L766.2 1722.9L789.2 1690.5L808.1 1679.9M1723.9 1524.2L1722.9 1525.8L1712.5 1535.8L1647.0 1580.5L1614.3 1590.7L1581.5 1594.2L1417.8 1570.8L1385.0 1563.5L1352.3 1548.1L1326.6 1525.8L1320.1 1494.3L1352.3 1459.8L1385.0 1408.6L1404.9 1362.1L1425.4 1329.3L1451.7 1302.0L1516.0 1247.9L1581.5 1216.6L1614.3 1215.8L1647.0 1220.1L1712.5 1243.5L1732.2 1263.8L1745.3 1284.4L1766.7 1329.3L1771.7 1362.1L1772.3 1394.8L1767.9 1427.6L1758.5 1460.3L1756.4 1464.8M1318.1 1252.9L1352.3 1250.8L1356.7 1264.6L1351.7 1274.2L1319.3 1271.3L1314.9 1264.0L1318.1 1252.9" fill="none" stroke="#808080" stroke-width="4.2" stroke-linejoin="round" stroke-linecap="butt"/>
<text transform="translate(834.5,1657.0) rotate(-40)" font-size="22.2" text-anchor="middle" fill="#808080" dy="8.1">0.11</text>
<text transform="translate(1057.5,1815.0) rotate(-13)" font-size="22.2" text-anchor="middle" fill="#808080" dy="8.1">1.19</text>
<text transform="translate(1118.5,1589.5) rotate(45)" font-size="22.2" text-anchor="middle" fill="#808080" dy="8.1">2.28</text>
<text transform="translate(1093.0,1597.0) rotate(48)" font-size="22.2" text-anchor="middle" fill="#808080" dy="8.1">3.36</text>
<text transform="translate(1096.5,1613.0) rotate(42)" font-size="22.2" text-anchor="middle" fill="#808080" dy="8.1">4.44</text>
<text transform="translate(1057.0,1616.0) rotate(38)" font-size="22.2" text-anchor="middle" fill="#808080" dy="8.1">5.52</text>
<text transform="translate(1072.0,1628.0) rotate(38)" font-size="22.2" text-anchor="middle" fill="#808080" dy="8.1">6.60</text>
<text transform="translate(1046.0,1637.5) rotate(62)" font-size="22.2" text-anchor="middle" fill="#808080" dy="8.1">7.69</text>
<text transform="translate(1068.0,1643.0) rotate(50)" font-size="22.2" text-anchor="middle" fill="#808080" dy="8.1">8.77</text>
<text transform="translate(1060.0,1657.0) rotate(50)" font-size="22.2" text-anchor="middle" fill="#808080" dy="8.1">9.85</text>
<text transform="translate(1647.5,1328.3) rotate(33)" font-size="22.2" text-anchor="middle" fill="#808080" dy="8.1">2.28</text>
<text transform="translate(1614.0,1344.5) rotate(17)" font-size="22.2" text-anchor="middle" fill="#808080" dy="8.1">3.36</text>
<text transform="translate(1682.5,1462.3) rotate(-45)" font-size="22.2" text-anchor="middle" fill="#808080" dy="8.1">1.19</text>
<text transform="translate(1744.0,1496.5) rotate(-58)" font-size="22.2" text-anchor="middle" fill="#808080" dy="8.1">0.11</text>
<path d="M376.6 1886.5L399.9 1901.7M348.5 1914.8L371.3 1930.0M377.1 1914.2L399.7 1930.6M349.1 1942.0L370.7 1959.2M377.7 1941.4L398.8 1959.5M349.4 1969.7L370.4 1987.9M377.7 1969.2L398.5 1988.2M618.3 1881.2L608.6 1906.9M585.2 1909.0L585.2 1936.1M616.8 1909.5L610.1 1935.3M553.1 1937.6L561.3 1963.6M584.6 1937.3L586.4 1963.9M614.5 1937.3L611.8 1963.9M552.5 1965.9L561.9 1991.4M659.2 1772.5L681.1 1790.0M1012.6 1515.0L1002.5 1540.5M1041.6 1515.0L1030.0 1540.5M1070.1 1515.0L1059.1 1540.5M1013.5 1544.0L1001.9 1568.1M1042.5 1544.0L1030.0 1568.1M1070.7 1544.0L1059.1 1568.1M1098.2 1544.0L1086.6 1568.1M1128.1 1544.9L1114.2 1567.2M988.0 1573.0L970.5 1594.2M1015.5 1572.1L1001.9 1594.2M1043.1 1572.1L1030.0 1596.2M1071.5 1572.1L1060.5 1596.2M1098.2 1571.6L1088.1 1596.2M988.0 1602.0L970.5 1622.4M1015.5 1600.6L999.6 1623.8M1043.1 1600.6L1031.5 1623.8M1070.7 1600.6L1062.0 1625.3M1096.8 1600.6L1091.0 1625.3M988.0 1629.6L972.0 1651.4M1015.5 1629.0L1001.0 1652.8M1043.1 1629.0L1032.1 1653.4M1069.2 1629.0L1063.4 1653.4M1095.3 1628.2L1092.4 1654.3M1015.5 1658.0L999.6 1679.5M1042.5 1657.2L1030.0 1681.3M1064.9 1657.2L1061.1 1681.8M1437.0 1290.3L1424.5 1314.5M1464.8 1289.7L1453.1 1314.5M1435.6 1318.0L1424.5 1342.3M1741.9 1260.5L1738.6 1287.4M1729.3 1350.2L1751.2 1367.1M1758.5 1349.3L1778.4 1367.7" fill="none" stroke="#fff" stroke-width="2.4"/>
<path d="M1017.8 1695.2h15.6M1025.6 1687.4v15.6" stroke="#f00" stroke-width="2.8" fill="none"/>
<path d="M1021.8 1690.3h15.6M1029.6 1682.5v15.6" stroke="#008000" stroke-width="2.8" fill="none"/>
<path d="M390.6 2286.5H718.4" stroke="#fff" stroke-width="2.6" fill="none"/>
<text x="555.2" y="2335.2" font-size="44.44" text-anchor="middle" fill="#fff">1 arcsec</text>
<path d="M2333.5 167.9L2343.7 197.6H2323.5zM2200.9 315.6L2230.6 305.9V325.3z" fill="#fff"/>
<path d="M2333.5 196v3.5M2229 315.6h3.5" stroke="#fff" stroke-width="2.2"/>
<g fill="#fff" stroke="#fff" stroke-width="3.2" stroke-linejoin="miter" font-size="63"><text transform="translate(2354.0,163.5) scale(1,1.108)">N</text><text transform="translate(2213.3,293.4) scale(1,1.108)">E</text></g>
</g>
<rect x="345.90" y="77.20" width="2085.00" height="2309.50" fill="none" stroke="#000" stroke-width="2.2"/>
<path d="M460.30 2386.70v9.50M460.30 77.20v-9.50M993.90 2386.70v9.50M993.90 77.20v-9.50M1527.50 2386.70v9.50M1527.50 77.20v-9.50M2061.10 2386.70v9.50M2061.10 77.20v-9.50M345.90 144.00h-9.50M2430.90 144.00h9.50M345.90 798.40h-9.50M2430.90 798.40h9.50M345.90 1452.50h-9.50M2430.90 1452.50h9.50M345.90 2106.90h-9.50M2430.90 2106.90h9.50" stroke="#000" stroke-width="2.8" fill="none"/>
<text x="461.80" y="2442.00" font-size="44.44" text-anchor="middle" fill="#000" >20<tspan dy="-16.6" dx="0.0" font-size="31.1">h</tspan><tspan dy="16.6" dx="0.0">52</tspan><tspan dy="-16.6" dx="1.7" font-size="31.1">m</tspan><tspan dy="16.6" dx="0.5">02.4</tspan><tspan dy="-16.6" dx="0.8" font-size="31.1">s</tspan></text>
<text x="994.70" y="2442.00" font-size="44.44" text-anchor="middle" fill="#000" letter-spacing="-0.35">02.2<tspan dy="-16.6" dx="0.3" font-size="31.1">s</tspan></text>
<text x="1528.30" y="2442.00" font-size="44.44" text-anchor="middle" fill="#000" letter-spacing="-0.35">02.0<tspan dy="-16.6" dx="0.3" font-size="31.1">s</tspan></text>
<text x="2061.90" y="2442.00" font-size="44.44" text-anchor="middle" fill="#000" letter-spacing="-0.35">01.8<tspan dy="-16.6" dx="0.3" font-size="31.1">s</tspan></text>
<text x="326.00" y="156.60" font-size="44.44" text-anchor="end" fill="#000" letter-spacing="-0.1">-57°04'02"</text>
<text x="326.00" y="811.00" font-size="44.44" text-anchor="end" fill="#000" letter-spacing="-0.25">04"</text>
<text x="326.00" y="1465.10" font-size="44.44" text-anchor="end" fill="#000" letter-spacing="-0.25">06"</text>
<text x="326.00" y="2119.50" font-size="44.44" text-anchor="end" fill="#000" letter-spacing="-0.25">08"</text>
<text x="1388.40" y="2509.80" font-size="44.44" text-anchor="middle" fill="#000" >Right Ascension (J2000)</text>
<text transform="translate(53.7,1233) rotate(-90)" font-size="44.44" text-anchor="middle">Declination (J2000)</text>
<text x="1388.80" y="60.90" font-size="53.25" text-anchor="middle" fill="#000" >HST/FOC UV polarization map of IC5063 overplotted with 238.55GHz map in mJy/Beam.</text>
<defs><linearGradient id="cb" x1="0" y1="1" x2="0" y2="0"><stop offset="0.0000" stop-color="#000004"/><stop offset="0.0156" stop-color="#02010a"/><stop offset="0.0312" stop-color="#040312"/><stop offset="0.0469" stop-color="#07051b"/><stop offset="0.0625" stop-color="#0b0724"/><stop offset="0.0781" stop-color="#10092d"/><stop offset="0.0938" stop-color="#150b37"/><stop offset="0.1094" stop-color="#1b0c41"/><stop offset="0.1250" stop-color="#210c4a"/><stop offset="0.1406" stop-color="#280b53"/><stop offset="0.1562" stop-color="#2f0a5b"/><stop offset="0.1719" stop-color="#360961"/><stop offset="0.1875" stop-color="#3d0965"/><stop offset="0.2031" stop-color="#440a68"/><stop offset="0.2188" stop-color="#4a0c6b"/><stop offset="0.2344" stop-color="#510e6c"/><stop offset="0.2500" stop-color="#57106e"/><stop offset="0.2656" stop-color="#5d126e"/><stop offset="0.2812" stop-color="#64156e"/><stop offset="0.2969" stop-color="#6a176e"/><stop offset="0.3125" stop-color="#71196e"/><stop offset="0.3281" stop-color="#771c6d"/><stop offset="0.3438" stop-color="#7d1e6d"/><stop offset="0.3594" stop-color="#84206b"/><stop offset="0.3750" stop-color="#8a226a"/><stop offset="0.3906" stop-color="#902568"/><stop offset="0.4062" stop-color="#972766"/><stop offset="0.4219" stop-color="#9d2964"/><stop offset="0.4375" stop-color="#a32c61"/><stop offset="0.4531" stop-color="#a92e5e"/><stop offset="0.4688" stop-color="#b0315b"/><stop offset="0.4844" stop-color="#b63458"/><stop offset="0.5000" stop-color="#bc3754"/><stop offset="0.5156" stop-color="#c13a50"/><stop offset="0.5312" stop-color="#c73e4c"/><stop offset="0.5469" stop-color="#cc4248"/><stop offset="0.5625" stop-color="#d24644"/><stop offset="0.5781" stop-color="#d74b3f"/><stop offset="0.5938" stop-color="#db503b"/><stop offset="0.6094" stop-color="#e05536"/><stop offset="0.6250" stop-color="#e45a31"/><stop offset="0.6406" stop-color="#e8602d"/><stop offset="0.6562" stop-color="#eb6628"/><stop offset="0.6719" stop-color="#ef6c23"/><stop offset="0.6875" stop-color="#f1731d"/><stop offset="0.7031" stop-color="#f47918"/><stop offset="0.7188" stop-color="#f68013"/><stop offset="0.7344" stop-color="#f8870e"/><stop offset="0.7500" stop-color="#f98e09"/><stop offset="0.7656" stop-color="#fb9606"/><stop offset="0.7812" stop-color="#fb9d07"/><stop offset="0.7969" stop-color="#fca50a"/><stop offset="0.8125" stop-color="#fcac11"/><stop offset="0.8281" stop-color="#fcb418"/><stop offset="0.8438" stop-color="#fbbc21"/><stop offset="0.8594" stop-color="#fac42a"/><stop offset="0.8750" stop-color="#f9cb35"/><stop offset="0.8906" stop-color="#f7d340"/><stop offset="0.9062" stop-color="#f5db4c"/><stop offset="0.9219" stop-color="#f3e35a"/><stop offset="0.9375" stop-color="#f2ea69"/><stop offset="0.9531" stop-color="#f1f179"/><stop offset="0.9688" stop-color="#f3f68a"/><stop offset="0.9844" stop-color="#f8fb9a"/><stop offset="1.0000" stop-color="#fcffa4"/></linearGradient></defs>
<rect x="2701.00" y="106.70" width="29.90" height="2250.50" fill="url(#cb)" stroke="#000" stroke-width="2.2"/>
<text x="2751.00" y="2373.40" font-size="44.44" text-anchor="start" fill="#000" >0.0</text>
<text x="2751.00" y="2112.94" font-size="44.44" text-anchor="start" fill="#000" >0.2</text>
<text x="2751.00" y="1852.48" font-size="44.44" text-anchor="start" fill="#000" >0.4</text>
<text x="2751.00" y="1592.02" font-size="44.44" text-anchor="start" fill="#000" >0.6</text>
<text x="2751.00" y="1331.56" font-size="44.44" text-anchor="start" fill="#000" >0.8</text>
<text x="2751.00" y="1071.10" font-size="44.44" text-anchor="start" fill="#000" >1.0</text>
<text x="2751.00" y="810.64" font-size="44.44" text-anchor="start" fill="#000" >1.2</text>
<text x="2751.00" y="550.18" font-size="44.44" text-anchor="start" fill="#000" >1.4</text>
<text x="2751.00" y="289.72" font-size="44.44" text-anchor="start" fill="#000" >1.6</text>
<path d="M2730.90 2356.40h10.80M2730.90 2095.94h10.80M2730.90 1835.48h10.80M2730.90 1575.02h10.80M2730.90 1314.56h10.80M2730.90 1054.10h10.80M2730.90 793.64h10.80M2730.90 533.18h10.80M2730.90 272.72h10.80" stroke="#000" stroke-width="2.2" fill="none"/>
<text x="2730.80" y="99.90" font-size="44.44" text-anchor="end" fill="#000" >1e−17</text>
<text id="cblabel" transform="translate(2875.4,1233) rotate(-90)" font-size="44.44" text-anchor="middle"><tspan font-style="italic" dx="0.8">F</tspan><tspan dy="7" font-size="31.1" font-style="italic">λ</tspan><tspan dy="-7" dx="2.5"> [</tspan><tspan font-style="italic" letter-spacing="-0.55">ergs</tspan><tspan dx="-3.4"> · </tspan><tspan font-style="italic" dx="-4.7">cm</tspan><tspan dy="-16.5" dx="1.7" font-size="31.1">−2</tspan><tspan dy="16.5" font-size="44.4">​</tspan><tspan dx="-3.4"> · </tspan><tspan font-style="italic" dx="-5.5">s</tspan><tspan dy="-16.5" dx="2.5" font-size="31.1">−1</tspan><tspan dy="16.5" font-size="44.4">​</tspan><tspan dx="-5.9"> · </tspan><tspan font-style="italic" dx="-4.7">Å</tspan><tspan dy="-16.5" dx="5.9" font-size="31.1">−1</tspan><tspan dy="16.5" font-size="44.4">​</tspan>]</text>
</svg>
</body></html>
